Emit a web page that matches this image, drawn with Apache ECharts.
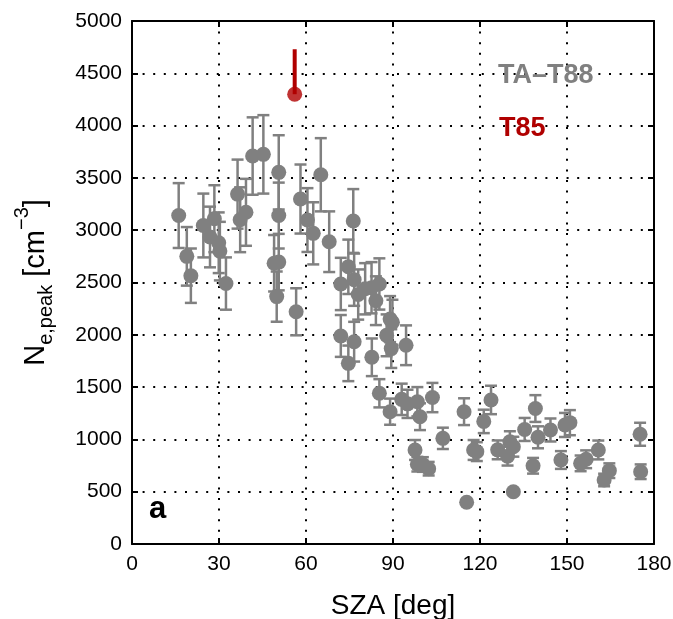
<!DOCTYPE html>
<html>
<head>
<meta charset="utf-8">
<script src="https://cdn.jsdelivr.net/npm/echarts@6/dist/echarts.min.js"></script>
<style>html,body{margin:0;padding:0;background:#fff}#c{width:673px;height:619px}</style>
</head>
<body>
<div id="c"></div>
<script>
// TA–T88 data: solar zenith angle (deg), peak density (cm^-3), error (cm^-3)
const sza = [16.1,18.9,20.3,24.6,26.9,28.4,29.9,30.3,32.4,36.4,37.3,39.3,41.6,45.3,49.0,49.9,50.6,50.6,50.6,56.6,58.1,60.5,62.5,65.1,68.0,72.0,72.0,74.6,74.6,76.3,76.6,76.6,78.0,80.4,82.6,82.7,84.1,85.3,85.3,87.8,89.0,89.8,89.4,89.0,93.0,94.5,95.0,98.4,99.3,103.6,97.6,98.4,102.3,100.3,107.2,114.5,115.4,117.8,118.9,121.3,123.8,126.1,129.5,130.3,131.5,131.5,135.4,139.1,140.0,138.3,144.3,147.9,149.3,151.0,154.7,156.6,160.8,162.8,164.6,175.2,175.4];
const ne  = [3140,2750,2565,3045,2935,3110,2880,2800,2490,3345,3100,3171,3709,3725,2684,2365,2695,3140,3553,2220,3298,3097,2970,3530,2890,2486,1989,2650,1727,3088,2527,1934,2385,2440,2450,1785,2326,2486,1441,1995,2150,2120,1868,1265,1383,1900,1340,1360,1217,1400,899,763,720,760,1010,1265,399,899,883,1172,1377,900,840,978,930,500,1095,1295,1020,748,1090,803,1138,1160,771,810,899,612,701,1049,691];
const err = [310,280,260,305,290,320,290,280,250,330,310,320,370,375,270,240,270,315,355,225,330,305,297,350,290,250,200,260,170,305,250,190,240,245,245,180,233,245,135,200,220,215,185,125,150,190,135,140,128,140,95,70,65,70,102,128,0,95,90,112,136,90,90,100,95,0,110,128,105,75,110,85,115,120,75,85,90,60,70,110,70];
// T85
const t85Sza = [56.1];
const t85Ne = [4300];
const t85ErrUp = [430];

const xTicks = [0,30,60,90,120,150,180];
const yTicks = [0,500,1000,1500,2000,2500,3000,3500,4000,4500,5000];

const GRAY = '#808080';
const RED = '#b00000';
const FONT = 'Liberation Sans';

const mainData = sza.map((x,i)=>[x, ne[i], err[i]]);
const redData = t85Sza.map((x,i)=>[x, t85Ne[i], t85ErrUp[i]]);

function errBar(params, api){
  const x = api.value(0), y = api.value(1), e = api.value(2);
  if (!e) return;
  const top = api.coord([x, y+e]);
  const bot = api.coord([x, y-e]);
  const hw = 6;
  const st = {stroke: GRAY, lineWidth: 2.5};
  return {type:'group', children:[
    {type:'line', shape:{x1:top[0],y1:top[1],x2:bot[0],y2:bot[1]}, style:st},
    {type:'line', shape:{x1:top[0]-hw,y1:top[1],x2:top[0]+hw,y2:top[1]}, style:st},
    {type:'line', shape:{x1:bot[0]-hw,y1:bot[1],x2:bot[0]+hw,y2:bot[1]}, style:st}
  ]};
}
function redBar(params, api){
  const x = api.value(0), y = api.value(1), e = api.value(2);
  const top = api.coord([x, y+e]);
  const p = api.coord([x, y]);
  return {type:'line', shape:{x1:top[0],y1:top[1],x2:p[0],y2:p[1]}, style:{stroke:RED, lineWidth:4}};
}

const dotted = {color:'#000', width:2, type:[2,8.6]};
const plain = v => String(v);
const chart = echarts.init(document.getElementById('c'), null, {renderer:'canvas'});
chart.setOption({
  animation:false,
  backgroundColor:'#fff',
  textStyle:{fontFamily:FONT},
  grid:{left:132, right:19, top:21, bottom:75, show:false, containLabel:false, outerBoundsMode:'none'},
  xAxis:[{
    type:'value', min:0, max:180, interval:30,
    axisLine:{show:true, onZero:false, lineStyle:{color:'#000', width:2}},
    axisTick:{show:true, inside:true, length:6, lineStyle:{color:'#000', width:2}},
    axisLabel:{color:'#000', fontSize:21, fontFamily:FONT, margin:10, formatter:plain},
    splitLine:{show:true, lineStyle:dotted},
    name:'SZA [deg]', nameLocation:'middle', nameGap:48,
    nameTextStyle:{color:'#000', fontSize:28, fontFamily:FONT}
  },{
    type:'value', min:0, max:180, interval:30, position:'top',
    axisLine:{show:true, onZero:false, lineStyle:{color:'#000', width:2}},
    axisTick:{show:true, inside:true, length:6, lineStyle:{color:'#000', width:2}},
    axisLabel:{show:false}, splitLine:{show:false}
  }],
  yAxis:[{
    type:'value', min:0, max:5000, interval:500,
    axisLine:{show:true, onZero:false, lineStyle:{color:'#000', width:2}},
    axisTick:{show:true, inside:true, length:6, lineStyle:{color:'#000', width:2}},
    axisLabel:{color:'#000', fontSize:21, fontFamily:FONT, margin:10, formatter:plain},
    splitLine:{show:true, lineStyle:dotted},
    name:'{n|N}{sub|e,peak}{n| [cm}{sup|−3}{n|]}', nameLocation:'middle', nameGap:82, nameRotate:90,
    nameTextStyle:{color:'#000', fontFamily:FONT, rich:{
      n:{fontSize:29, fontFamily:FONT, color:'#000', verticalAlign:'bottom', lineHeight:34},
      sub:{fontSize:20, fontFamily:FONT, color:'#000', verticalAlign:'bottom', padding:[0,0,-6,0], lineHeight:34},
      sup:{fontSize:20, fontFamily:FONT, color:'#000', verticalAlign:'top', padding:[-4,0,0,0], lineHeight:34}
    }}
  },{
    type:'value', min:0, max:5000, interval:500, position:'right',
    axisLine:{show:true, onZero:false, lineStyle:{color:'#000', width:2}},
    axisTick:{show:true, inside:true, length:6, lineStyle:{color:'#000', width:2}},
    axisLabel:{show:false}, splitLine:{show:false}
  }],
  series:[
    {type:'custom', renderItem:errBar, data:mainData, z:2, encode:{x:0,y:1}},
    {type:'scatter', data:mainData, symbol:'circle', symbolSize:15, itemStyle:{color:GRAY, opacity:1}, z:3},
    {type:'custom', renderItem:redBar, data:redData, z:2, encode:{x:0,y:1}},
    {type:'scatter', data:redData, symbol:'circle', symbolSize:15, itemStyle:{color:RED}, z:3}
  ],
  graphic:[
    {type:'text', z:100, left:498, top:62, style:{text:'TA–T88', fill:GRAY, font:'bold 27px "Liberation Sans"'}},
    {type:'text', z:100, left:499, top:115, style:{text:'T85', fill:RED, font:'bold 27px "Liberation Sans"'}},
    {type:'text', z:100, left:149, top:494, style:{text:'a', fill:'#000', font:'bold 31px "Liberation Sans"'}}
  ]
});
</script>
</body>
</html>
